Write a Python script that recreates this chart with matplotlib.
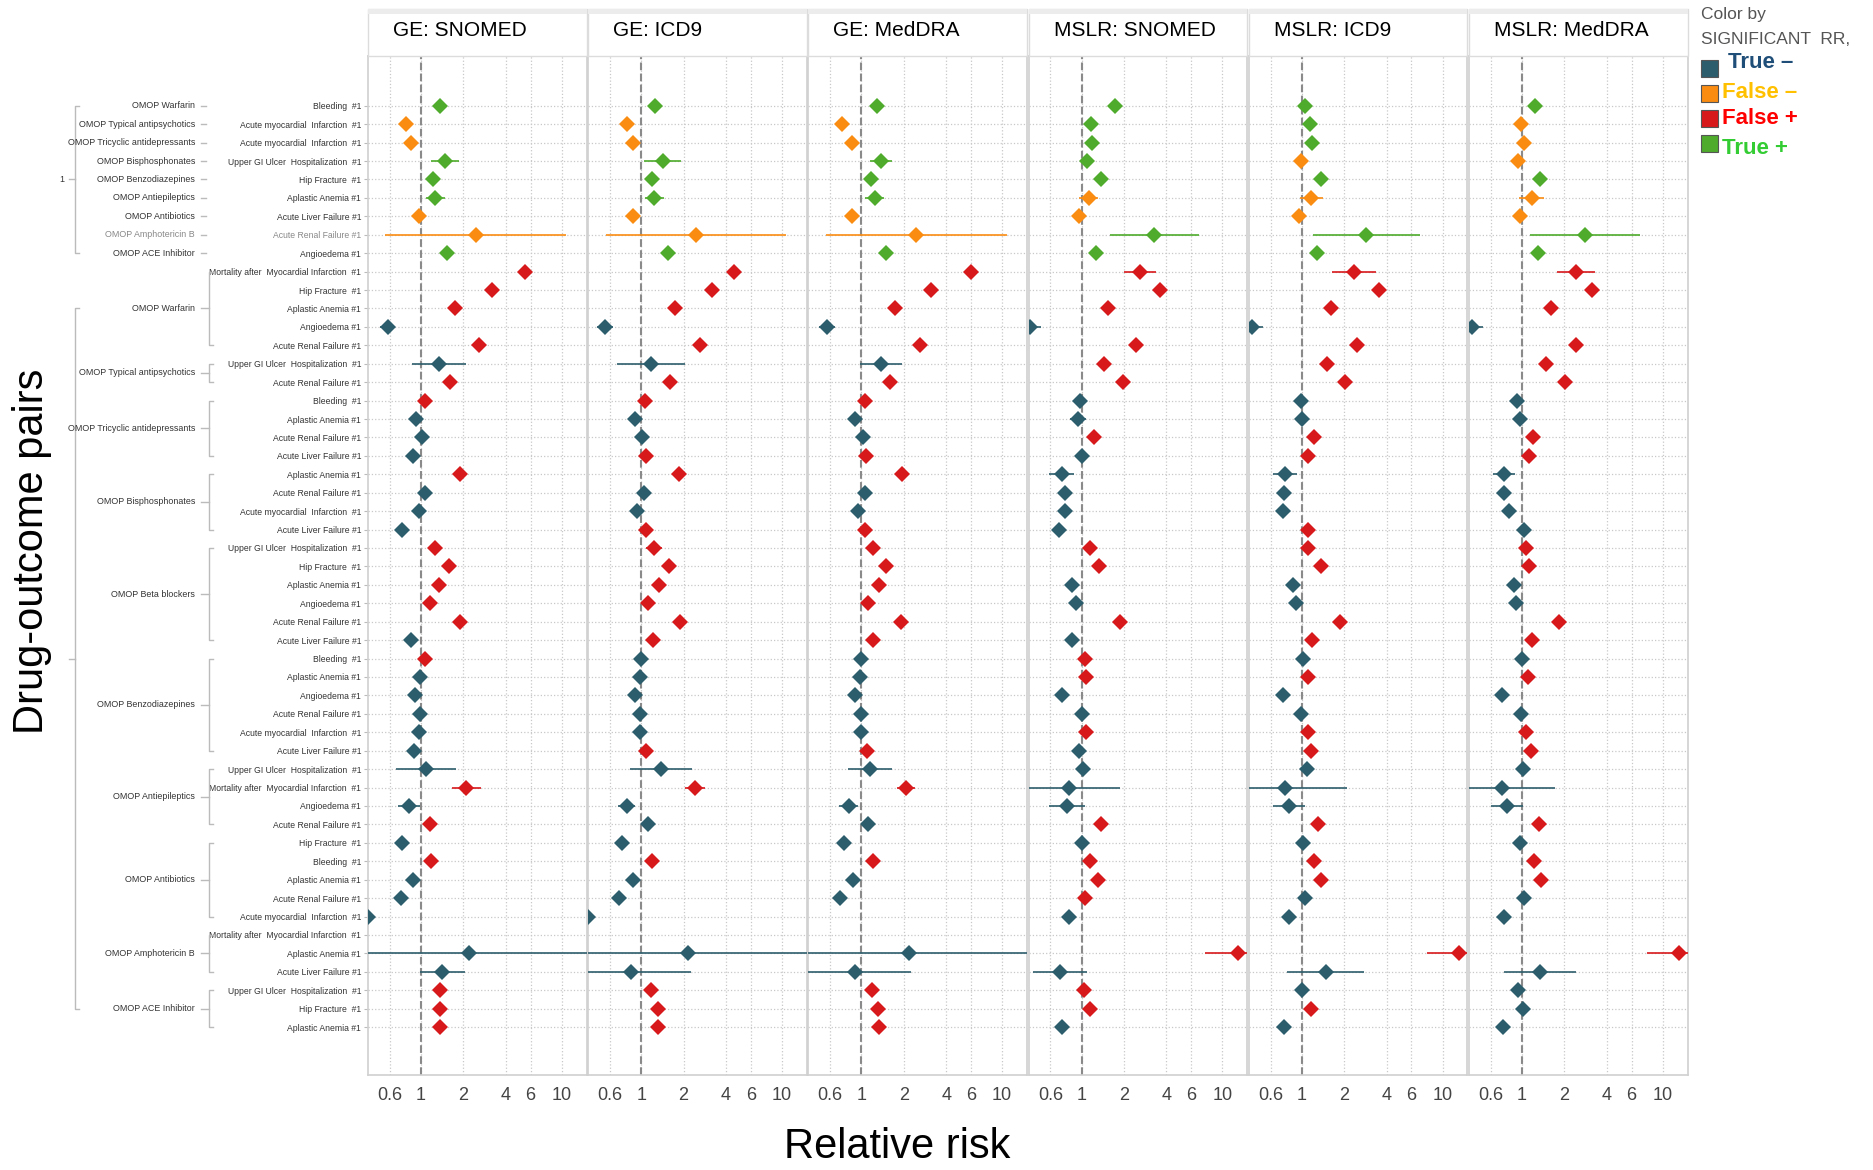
import matplotlib
matplotlib.use("Agg")
import matplotlib.pyplot as plt
from matplotlib.transforms import blended_transform_factory
from matplotlib.lines import Line2D
from matplotlib.patches import Rectangle

plt.rcParams['font.family'] = ['Liberation Sans', 'DejaVu Sans']

# ---- labels ----
panels = ["GE: SNOMED", "GE: ICD9", "GE: MedDRA", "MSLR: SNOMED", "MSLR: ICD9", "MSLR: MedDRA"]

pos_drugs = ["OMOP Warfarin", "OMOP Typical antipsychotics", "OMOP Tricyclic antidepressants",
             "OMOP Bisphosphonates", "OMOP Benzodiazepines", "OMOP Antiepileptics",
             "OMOP Antibiotics", "OMOP Amphotericin B", "OMOP ACE Inhibitor"]
pos_outcomes = ["Bleeding  #1", "Acute myocardial  Infarction  #1", "Acute myocardial  Infarction  #1",
                "Upper GI Ulcer  Hospitalization  #1", "Hip Fracture  #1", "Aplastic Anemia #1",
                "Acute Liver Failure #1", "Acute Renal Failure #1", "Angioedema #1"]

neg_drugs = ["OMOP Warfarin", "OMOP Typical antipsychotics", "OMOP Tricyclic antidepressants",
             "OMOP Bisphosphonates", "OMOP Beta blockers", "OMOP Benzodiazepines",
             "OMOP Antiepileptics", "OMOP Antibiotics", "OMOP Amphotericin B", "OMOP ACE Inhibitor"]
neg_outcomes = [
    ["Mortality after  Myocardial Infarction  #1", "Hip Fracture  #1", "Aplastic Anemia #1",
     "Angioedema #1", "Acute Renal Failure #1"],
    ["Upper GI Ulcer  Hospitalization  #1", "Acute Renal Failure #1"],
    ["Bleeding  #1", "Aplastic Anemia #1", "Acute Renal Failure #1", "Acute Liver Failure #1"],
    ["Aplastic Anemia #1", "Acute Renal Failure #1", "Acute myocardial  Infarction  #1",
     "Acute Liver Failure #1"],
    ["Upper GI Ulcer  Hospitalization  #1", "Hip Fracture  #1", "Aplastic Anemia #1",
     "Angioedema #1", "Acute Renal Failure #1", "Acute Liver Failure #1"],
    ["Bleeding  #1", "Aplastic Anemia #1", "Angioedema #1", "Acute Renal Failure #1",
     "Acute myocardial  Infarction  #1", "Acute Liver Failure #1"],
    ["Upper GI Ulcer  Hospitalization  #1", "Mortality after  Myocardial Infarction  #1",
     "Angioedema #1", "Acute Renal Failure #1"],
    ["Hip Fracture  #1", "Bleeding  #1", "Aplastic Anemia #1", "Acute Renal Failure #1",
     "Acute myocardial  Infarction  #1"],
    ["Mortality after  Myocardial Infarction  #1", "Aplastic Anemia #1", "Acute Liver Failure #1"],
    ["Upper GI Ulcer  Hospitalization  #1", "Hip Fracture  #1", "Aplastic Anemia #1"],
]

# ---- relative risk estimates (rows top to bottom) ----
rr_ge_snomed = [1.37, 0.78, 0.855, 1.48, 1.22, 1.26, 0.96, 2.45, 1.54,
                5.46, 3.22, 1.73, 0.58, 2.6, 1.34, 1.6,
                1.06, 0.925, 1.02, 0.87, 1.9, 1.06, 0.96, 0.73,
                1.26, 1.57, 1.34, 1.15, 1.9, 0.855, 1.06, 0.98, 0.907, 0.98, 0.96, 0.89,
                1.08, 2.1, 0.82, 1.15, 0.73, 1.17, 0.87, 0.72, 0.42,
                None, 2.18, 1.42, 1.37, 1.37, 1.37]
rr_ge_icd9 = [1.26, 0.79, 0.87, 1.42, 1.19, 1.24, 0.87, 2.45, 1.54,
              4.58, 3.16, 1.73, 0.557, 2.6, 1.17, 1.6,
              1.06, 0.907, 1.02, 1.08, 1.87, 1.04, 0.94, 1.08,
              1.24, 1.57, 1.34, 1.12, 1.9, 1.215, 1.0, 0.98, 0.907, 0.98, 0.98, 1.08,
              1.39, 2.41, 0.79, 1.12, 0.73, 1.19, 0.87, 0.70, 0.42,
              None, 2.15, 0.84, 1.17, 1.31, 1.31]
rr_ge_meddra = [1.29, 0.73, 0.855, 1.37, 1.17, 1.24, 0.855, 2.45, 1.5,
                6.0, 3.1, 1.73, 0.57, 2.6, 1.37, 1.6,
                1.06, 0.907, 1.02, 1.08, 1.94, 1.06, 0.94, 1.06,
                1.215, 1.5, 1.34, 1.12, 1.9, 1.215, 1.0, 0.98, 0.907, 1.0, 1.0, 1.10,
                1.15, 2.06, 0.81, 1.12, 0.746, 1.215, 0.87, 0.70, 0.36,
                None, 2.18, 0.907, 1.19, 1.31, 1.34]
rr_mslr_snomed = [1.73, 1.17, 1.19, 1.10, 1.37, 1.12, 0.96, 3.28, 1.26,
                  2.6, 3.62, 1.54, 0.43, 2.45, 1.45, 1.98,
                  0.98, 0.94, 1.215, 1.0, 0.72, 0.76, 0.76, 0.69,
                  1.15, 1.34, 0.855, 0.907, 1.87, 0.855, 1.06, 1.08, 0.72, 1.0, 1.08, 0.96,
                  1.02, 0.82, 0.79, 1.37, 1.0, 1.15, 1.31, 1.06, 0.82,
                  None, 12.9, 0.70, 1.04, 1.15, 0.72]
rr_mslr_icd9 = [1.06, 1.15, 1.19, 0.98, 1.37, 1.17, 0.96, 2.87, 1.29,
                2.36, 3.55, 1.6, 0.44, 2.45, 1.5, 2.02,
                0.98, 1.0, 1.215, 1.10, 0.76, 0.746, 0.73, 1.10,
                1.10, 1.37, 0.87, 0.907, 1.87, 1.19, 1.02, 1.10, 0.73, 0.98, 1.10, 1.17,
                1.08, 0.76, 0.81, 1.31, 1.02, 1.215, 1.37, 1.06, 0.81,
                None, 13.1, 1.48, 1.0, 1.17, 0.746]
rr_mslr_meddra = [1.24, 0.98, 1.04, 0.94, 1.34, 1.17, 0.96, 2.81, 1.29,
                  2.41, 3.16, 1.6, 0.44, 2.41, 1.48, 2.02,
                  0.925, 0.96, 1.19, 1.12, 0.746, 0.746, 0.81, 1.04,
                  1.06, 1.12, 0.87, 0.907, 1.83, 1.17, 1.0, 1.10, 0.72, 0.98, 1.06, 1.15,
                  1.02, 0.72, 0.78, 1.31, 0.96, 1.215, 1.37, 1.04, 0.746,
                  None, 13.1, 1.34, 0.94, 1.02, 0.73]

# ---- 95% CI as multiplicative error factor (lo = rr/f, hi = rr*f) ----
ci_ge_snomed = [1.06, 1.08, 1.06, 1.26, 1.05, 1.17, 1.05, 4.4, 1.06,
                1.08, 1.07, 1.09, 1.13, 1.07, 1.55, 1.09,
                1.04, 1.08, 1.05, 1.05, 1.09, 1.08, 1.06, 1.04,
                1.12, 1.08, 1.08, 1.06, 1.08, 1.04, 1.05, 1.06, 1.07, 1.06, 1.06, 1.05,
                1.63, 1.27, 1.19, 1.07, 1.06, 1.07, 1.08, 1.07, 1.05,
                1.0, 12, 1.45, 1.09, 1.07, 1.07]
ci_ge_icd9 = [1.05, 1.07, 1.05, 1.36, 1.06, 1.17, 1.04, 4.35, 1.05,
              1.08, 1.07, 1.08, 1.14, 1.06, 1.74, 1.08,
              1.05, 1.07, 1.04, 1.06, 1.08, 1.07, 1.06, 1.04,
              1.14, 1.08, 1.08, 1.06, 1.08, 1.06, 1.05, 1.06, 1.06, 1.05, 1.05, 1.05,
              1.66, 1.17, 1.15, 1.07, 1.07, 1.06, 1.08, 1.08, 1.05,
              1.0, 12, 2.7, 1.08, 1.06, 1.06]
ci_ge_meddra = [1.05, 1.07, 1.05, 1.2, 1.05, 1.17, 1.04, 4.4, 1.05,
                1.08, 1.07, 1.08, 1.14, 1.06, 1.41, 1.08,
                1.04, 1.07, 1.04, 1.05, 1.08, 1.06, 1.06, 1.04,
                1.08, 1.07, 1.08, 1.06, 1.08, 1.05, 1.04, 1.06, 1.06, 1.05, 1.05, 1.05,
                1.44, 1.16, 1.17, 1.07, 1.06, 1.06, 1.08, 1.08, 1.05,
                1.0, 12, 2.5, 1.08, 1.06, 1.06]
ci_mslr_snomed = [1.06, 1.06, 1.06, 1.06, 1.06, 1.17, 1.04, 2.07, 1.06,
                  1.3, 1.08, 1.1, 1.2, 1.06, 1.07, 1.07,
                  1.04, 1.14, 1.06, 1.04, 1.22, 1.08, 1.07, 1.05,
                  1.05, 1.07, 1.08, 1.07, 1.07, 1.05, 1.05, 1.06, 1.08, 1.05, 1.06, 1.04,
                  1.07, 2.3, 1.34, 1.08, 1.07, 1.06, 1.07, 1.06, 1.05,
                  1.0, 1.7, 1.55, 1.04, 1.07, 1.07]
ci_mslr_icd9 = [1.04, 1.06, 1.06, 1.08, 1.06, 1.2, 1.04, 2.4, 1.06,
                1.43, 1.08, 1.1, 1.2, 1.06, 1.07, 1.07,
                1.04, 1.12, 1.06, 1.04, 1.22, 1.09, 1.08, 1.05,
                1.05, 1.07, 1.08, 1.07, 1.07, 1.06, 1.04, 1.06, 1.09, 1.05, 1.06, 1.05,
                1.08, 2.75, 1.3, 1.07, 1.06, 1.06, 1.07, 1.05, 1.06,
                1.0, 1.7, 1.88, 1.04, 1.07, 1.07]
ci_mslr_meddra = [1.05, 1.05, 1.05, 1.05, 1.06, 1.22, 1.04, 2.45, 1.06,
                  1.36, 1.08, 1.1, 1.2, 1.06, 1.07, 1.07,
                  1.05, 1.1, 1.05, 1.04, 1.2, 1.09, 1.06, 1.04,
                  1.04, 1.05, 1.08, 1.07, 1.06, 1.05, 1.04, 1.06, 1.08, 1.04, 1.05, 1.05,
                  1.07, 2.4, 1.3, 1.07, 1.05, 1.05, 1.07, 1.05, 1.06,
                  1.0, 1.7, 1.8, 1.04, 1.05, 1.07]

# ---- significant flags (1 = significant) ----
sig_ge_snomed = "100111001" + "11101" "01" "1000" "1000" "111110" "100000" "0101" "01000" "000" "111"
sig_ge_icd9 = "100111001" + "11101" "01" "1001" "1001" "111111" "000001" "0100" "01000" "000" "111"
sig_ge_meddra = "100111001" + "11101" "01" "1001" "1001" "111111" "000001" "0100" "01000" "000" "111"
sig_mslr_snomed = "111110011" + "11101" "11" "0010" "0000" "110010" "110010" "0001" "01110" "010" "110"
sig_mslr_icd9 = "111010011" + "11101" "11" "0011" "0001" "110011" "010011" "0001" "01100" "010" "010"
sig_mslr_meddra = "100010011" + "11101" "11" "0011" "0000" "110011" "010011" "0001" "01100" "010" "000"

rr_all = [rr_ge_snomed, rr_ge_icd9, rr_ge_meddra, rr_mslr_snomed, rr_mslr_icd9, rr_mslr_meddra]
ci_all = [ci_ge_snomed, ci_ge_icd9, ci_ge_meddra, ci_mslr_snomed, ci_mslr_icd9, ci_mslr_meddra]
sig_all = [sig_ge_snomed, sig_ge_icd9, sig_ge_meddra, sig_mslr_snomed, sig_mslr_icd9, sig_mslr_meddra]

TEAL, ORANGE, RED, GREEN = '#2C5D6C', '#FA8C12', '#D7191C', '#4EAB2C'

outcomes = pos_outcomes + [o for grp in neg_outcomes for o in grp]
n_pos = len(pos_outcomes)
n_rows = len(outcomes)

W, H = 1873, 1170
fig = plt.figure(figsize=(W / 100, H / 100), dpi=100)

top_px, bot_px = 56, 1075
axes = []
for k, name in enumerate(panels):
    left_px = 368 + k * 220.2
    ax = fig.add_axes([left_px / W, 1 - bot_px / H, 218.5 / W, (bot_px - top_px) / H])
    axes.append(ax)
    ax.set_xscale('log')
    ax.set_xlim(0.42, 15)
    ax.set_ylim(n_rows + 1.6, -2.7)
    ax.set_xticks([0.6, 1, 2, 4, 6, 10])
    ax.set_xticklabels(["0.6", "1", "2", "4", "6", "10"])
    ax.xaxis.set_minor_locator(matplotlib.ticker.NullLocator())
    ax.set_yticks(range(n_rows))
    ax.grid(True, linestyle=':', color='#c8c8c8', lw=0.9)
    ax.set_axisbelow(True)
    ax.axvline(1, color='#8a8a8a', ls='--', lw=1.5, zorder=1)
    for s in ax.spines.values():
        s.set_color('#d0d0d0')
        s.set_linewidth(1.2)
    ax.tick_params(axis='x', length=0, pad=9, labelsize=13, labelcolor='#444444')
    if k == 0:
        ax.set_yticklabels(outcomes, fontsize=6.2, color='#333333')
        ax.tick_params(axis='y', length=3, color='#bbbbbb', pad=2)
        ax.get_yticklabels()[7].set_color('#888888')
    else:
        ax.tick_params(axis='y', length=0, labelleft=False)

    rr, ci, sig = rr_all[k], ci_all[k], sig_all[k]
    for i in range(n_rows):
        if rr[i] is None:
            continue
        positive = i < n_pos
        s = sig[i] == '1'
        if positive:
            c = GREEN if s else ORANGE
        else:
            c = RED if s else TEAL
        lo, hi = rr[i] / ci[i], rr[i] * ci[i]
        ax.errorbar(rr[i], i, xerr=[[rr[i] - lo], [hi - rr[i]]], fmt='D', color=c,
                    ms=8, mew=0, elinewidth=1.2, capsize=6, capthick=1.2, zorder=3)

    # facet header
    fig.add_artist(Rectangle((left_px / W, 1 - 56 / H), 218.5 / W, 47 / H,
                             transform=fig.transFigure, facecolor='white',
                             edgecolor='#dcdcdc', lw=1))
    fig.add_artist(Rectangle((left_px / W, 1 - 14 / H), 218.5 / W, 5 / H,
                             transform=fig.transFigure, facecolor='#ececec', lw=0))
    fig.text((left_px + 25) / W, 1 - 31 / H, name, fontsize=15, ha='left', va='center')

# ---- drug labels and brackets ----
ax0 = axes[0]
tr = blended_transform_factory(fig.transFigure, ax0.transData)
bc = '#bbbbbb'


def line(xs, ys):
    fig.add_artist(Line2D([x / W for x in xs], ys, transform=tr, color=bc, lw=1))


for i, d in enumerate(pos_drugs):
    col = '#888888' if i == 7 else '#333333'
    fig.text(195 / W, i, d, transform=tr, ha='right', va='center', fontsize=6.4, color=col)
    line([201, 206], [i, i])

row = n_pos
centers = []
for d, grp in zip(neg_drugs, neg_outcomes):
    y0, y1 = row, row + len(grp) - 1
    yc = (y0 + y1) / 2
    centers.append(yc)
    fig.text(195 / W, yc, d, transform=tr, ha='right', va='center', fontsize=6.4, color='#333333')
    line([201, 209], [yc, yc])
    line([213, 209, 209, 213], [y0, y0, y1, y1])
    row += len(grp)

# outer brackets
line([79, 75, 75, 79], [0, 0, n_pos - 1, n_pos - 1])
line([69, 75], [(n_pos - 1) / 2, (n_pos - 1) / 2])
fig.text(64 / W, (n_pos - 1) / 2, "1", transform=tr, ha='right', va='center', fontsize=6.4, color='#333333')
line([79, 75, 75, 79], [centers[0], centers[0], centers[-1], centers[-1]])
line([69, 75], [(centers[0] + centers[-1]) / 2] * 2)

# axis titles
fig.text(897 / W, 1 - 1147 / H, "Relative risk", fontsize=30, ha='center', va='center')
fig.text(32 / W, 1 - 551 / H, "Drug-outcome pairs", fontsize=30, rotation=90, ha='center', va='center')

# ---- legend ----
fig.text(1701 / W, 1 - 15 / H, "Color by", fontsize=12.5, color='#555555', va='center')
fig.text(1701 / W, 1 - 40 / H, "SIGNIFICANT  RR,", fontsize=12.5, color='#555555', va='center')
leg_sq = [TEAL, ORANGE, RED, GREEN]
leg_txt = ["True \u2013", "False \u2013", "False +", "True +"]
leg_col = ['#1F4E79', '#FFC000', '#FF0000', '#33CC33']
sq_top = [60, 85, 110, 135]
txt_y = [62, 92, 119, 149]
txt_x = [1728, 1722, 1722, 1722]
for c, t, tc, y, ty, tx in zip(leg_sq, leg_txt, leg_col, sq_top, txt_y, txt_x):
    fig.add_artist(Rectangle((1701 / W, 1 - (y + 17) / H), 17 / W, 17 / H,
                             transform=fig.transFigure, facecolor=c, edgecolor='#555555', lw=0.8))
    fig.text(tx / W, 1 - ty / H, t, fontsize=16, fontweight='bold', color=tc, va='center')

fig.savefig('out.png', dpi=100)
